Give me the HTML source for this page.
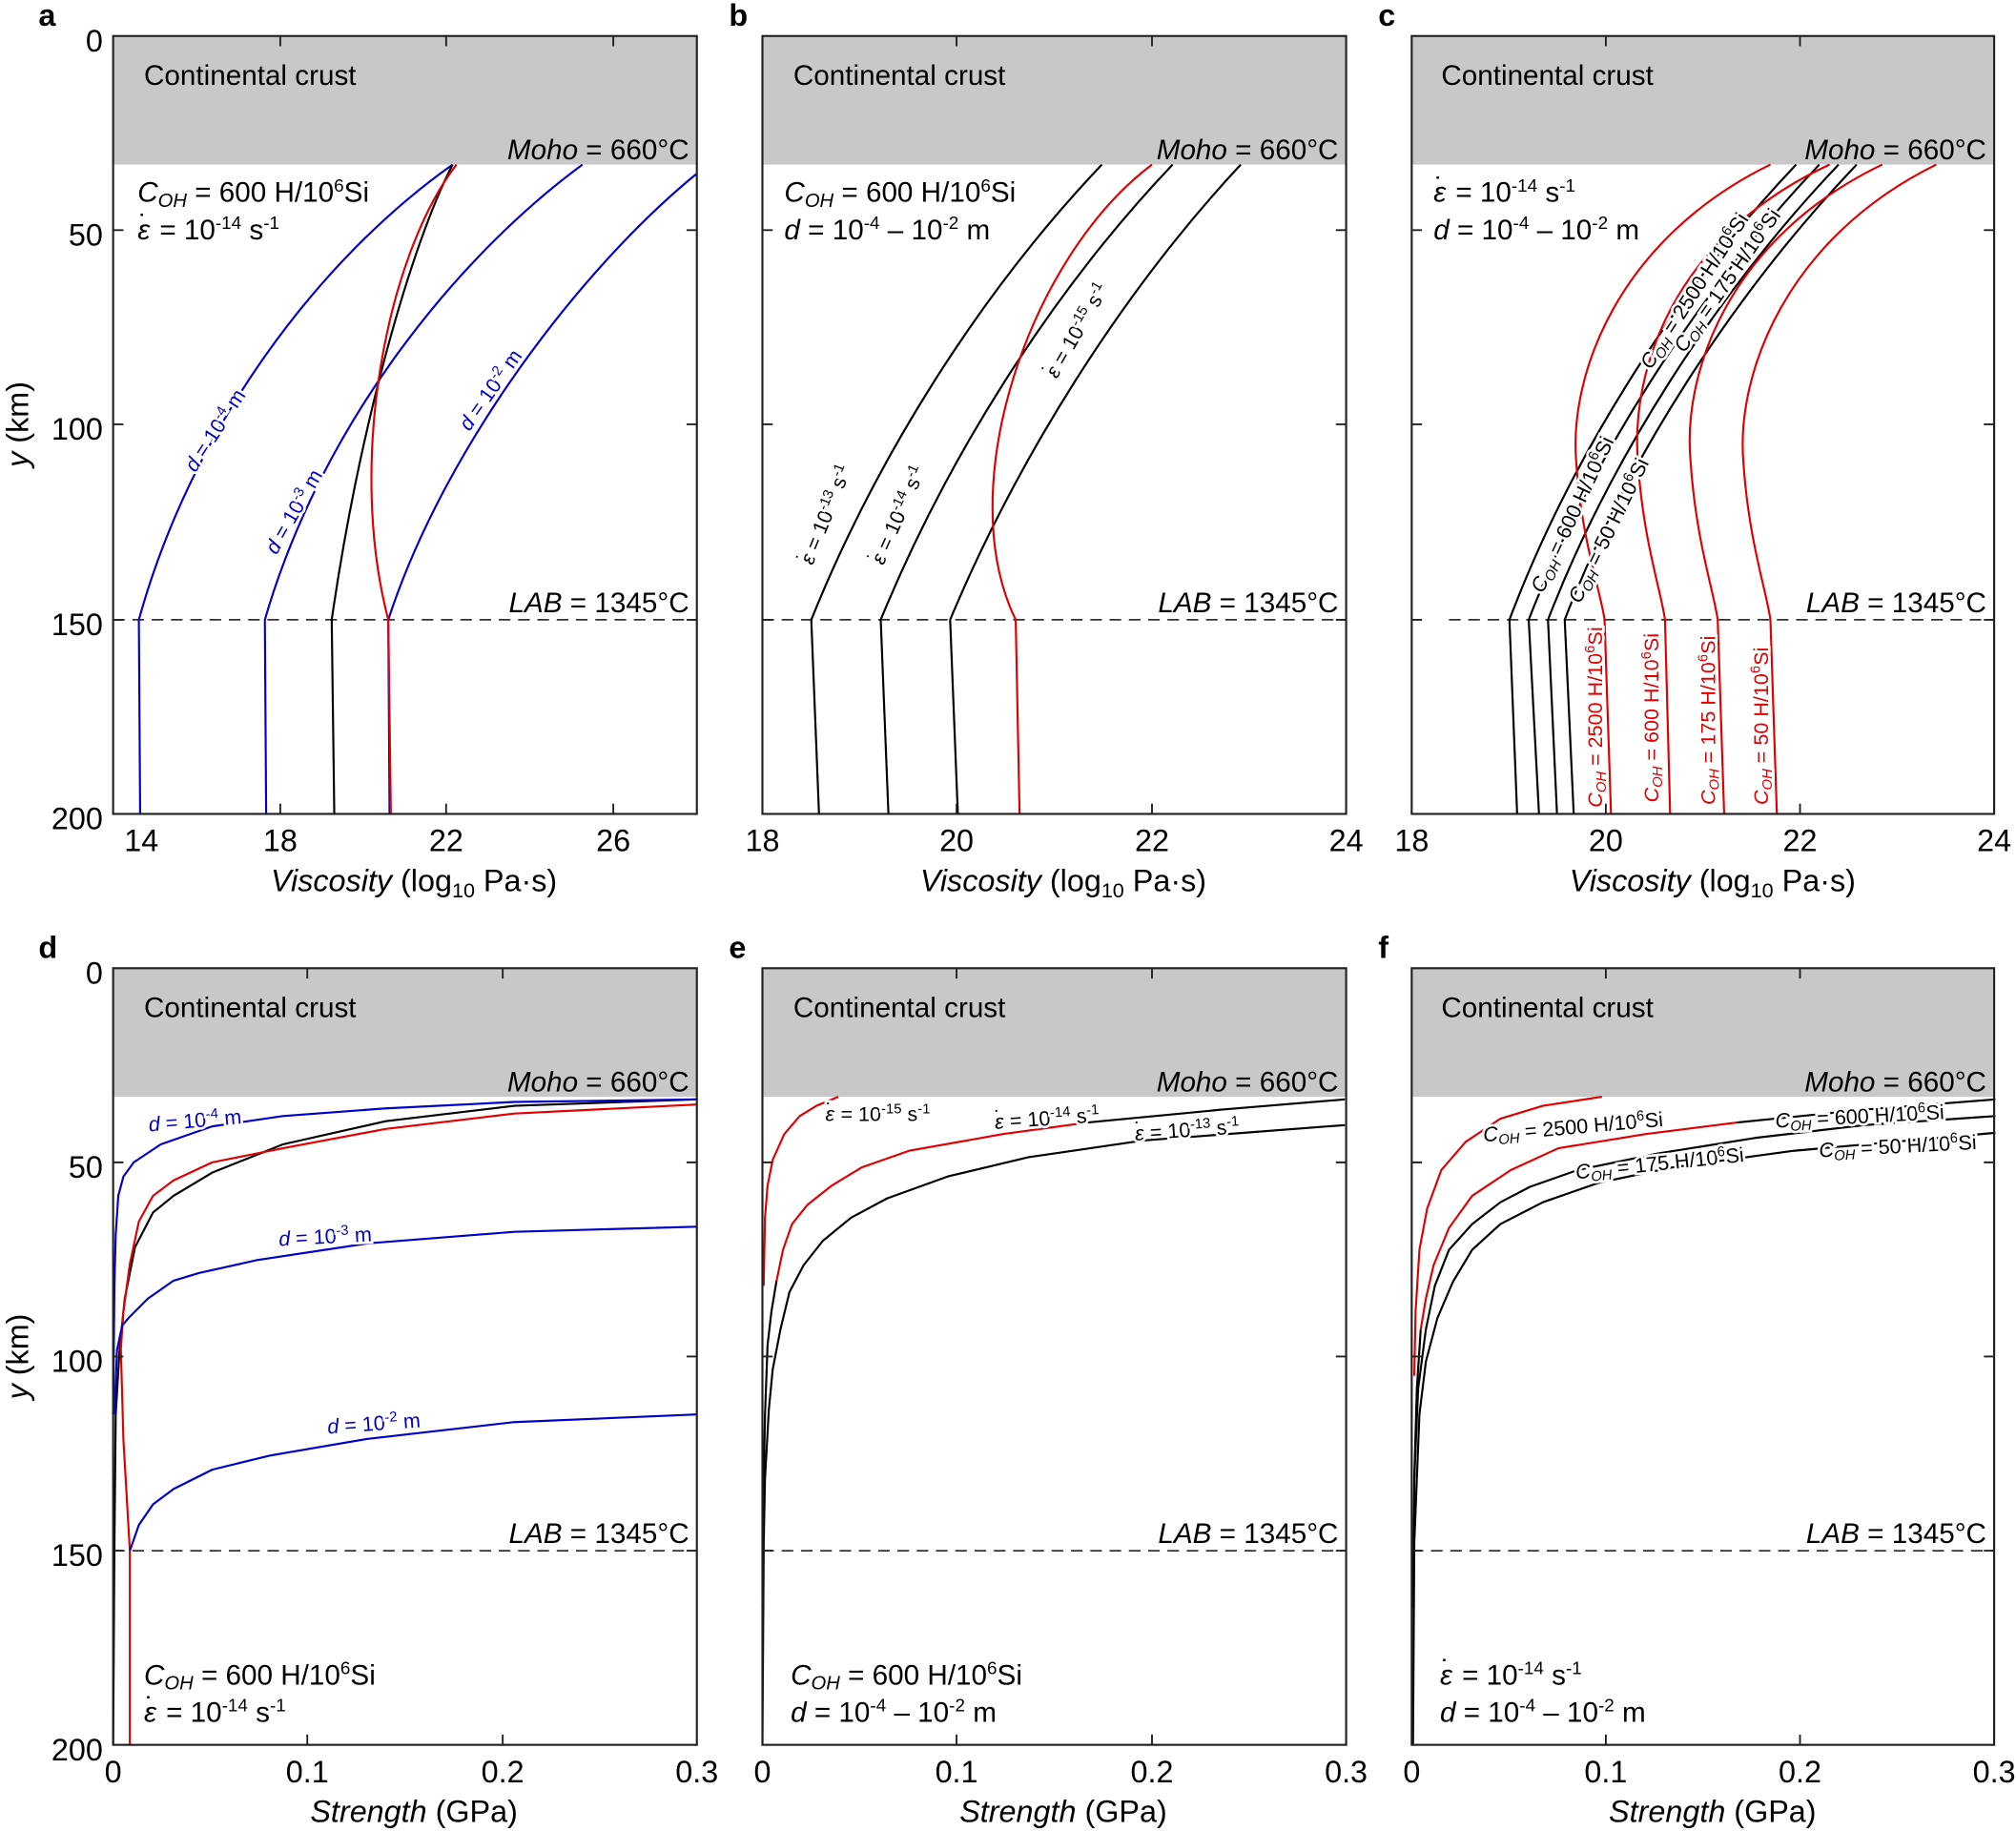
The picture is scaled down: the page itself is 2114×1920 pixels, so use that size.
<!DOCTYPE html>
<html><head><meta charset="utf-8"><style>
html,body{margin:0;padding:0;background:#fff}
svg{display:block}
text{font-family:"Liberation Sans",sans-serif;fill:#000}
.t{font-size:22px}
.tk{font-size:24px}
.lb{font-size:16px}
</style></head><body>
<svg width="2114" height="1920" viewBox="0 0 1568 1424" preserveAspectRatio="none" xmlns="http://www.w3.org/2000/svg">
<g fill="#c8c8c8" stroke="none">
<rect x="88" y="28" width="454" height="100"/><rect x="593" y="28" width="454" height="100"/><rect x="1098" y="28" width="453" height="100"/>
<rect x="88" y="753" width="454" height="100"/><rect x="593" y="753" width="454" height="100"/><rect x="1098" y="753" width="453" height="100"/>
</g>
<g stroke="#333" stroke-width="1.3" stroke-dasharray="9,6">
<line x1="88" y1="482" x2="542" y2="482"/><line x1="593" y1="482" x2="1047" y2="482"/><line x1="1127" y1="482" x2="1551" y2="482"/>
<line x1="88" y1="1206" x2="542" y2="1206"/><line x1="593" y1="1206" x2="1047" y2="1206"/><line x1="1098" y1="1206" x2="1551" y2="1206"/>
</g>

<g fill="none" stroke-width="1.6">
<path stroke="#0000c8" d="M352,128 C250,200 150,330 108,482 L109,633"/>
<path stroke="#0000c8" d="M453,128 C355,200 250,330 206,482 L207,633"/>
<path stroke="#0000c8" d="M542,135 C450,210 345,350 302,482 L303,633"/>
<path stroke="#000" d="M352,128 C320,190 280,330 258,482 L260,633"/>
<path stroke="#e00000" d="M355,128 C300,200 270,360 302,482 L304,633"/>
</g>
<g fill="none" stroke-width="1.6">
<path stroke="#000" d="M857,128 C760,230 680,360 631,482 L637,633"/>
<path stroke="#000" d="M912,128 C815,230 735,360 685,482 L691,633"/>
<path stroke="#000" d="M965,128 C870,230 790,360 739,482 L745,633"/>
<path stroke="#e00000" d="M896,128 C800,200 740,380 790,482 L793,633"/>
</g>
<g fill="none" stroke-width="1.6">
<path stroke="#000" d="M1397,128 C1300,230 1220,360 1174,482 L1180,633"/>
<path stroke="#000" d="M1415,128 C1318,230 1236,360 1189,482 L1197,633"/>
<path stroke="#000" d="M1430,128 C1333,230 1251,360 1204,482 L1211,633"/>
<path stroke="#000" d="M1444,128 C1347,230 1264,360 1217,482 L1224,633"/>
<path stroke="#e00000" d="M1377,128 C1260,185 1220,290 1226,360 C1230,420 1245,460 1248,482 L1253,633"/>
<path stroke="#e00000" d="M1423,128 C1300,185 1268,290 1274,360 C1278,420 1292,460 1295,482 L1299,633"/>
<path stroke="#e00000" d="M1464,128 C1345,185 1308,290 1315,360 C1319,420 1333,460 1336,482 L1341,633"/>
<path stroke="#e00000" d="M1506,128 C1390,185 1350,290 1356,360 C1360,420 1374,460 1377,482 L1382,633"/>
</g>

<g fill="none" stroke-width="1.6" stroke-linejoin="round">
<polyline stroke="#000" points="542,855 400,860 300,872 220,890 165,912 135,930 119,943 105,970 97,1010 93,1050 90,1100 89,1200 88,1357"/>
<polyline stroke="#e00000" points="542,859 400,866 300,878 220,893 165,904 135,918 119,930 108,950 101,983 96,1020 94,1049 96,1120 101,1206 101,1357"/>
<polyline stroke="#0000c8" points="542,855 400,857 300,862 220,868 165,876 125,890 104,904 96,915 92,930 90,960 89,1000 88,1100"/>
<polyline stroke="#0000c8" points="542,954 400,958 286,967 200,980 155,990 135,996 115,1010 100,1025 95,1031 91,1050 89,1100"/>
<polyline stroke="#0000c8" points="542,1100 400,1106 286,1119 210,1132 165,1143 135,1158 119,1170 108,1186 101,1206"/>
</g>
<g fill="none" stroke-width="1.6" stroke-linejoin="round">
<polyline stroke="#000" points="1046,875 889,887 800,900 737,915 690,932 662,947 640,965 625,984 614,1005 607,1034 601,1065 598,1096 595,1150 594,1200 593,1357"/>
<polyline stroke="#000" points="1046,855 950,863 846,873"/>
<polyline stroke="#000" points="604,996 600,1020 597,1046 595,1100 594,1150 593,1250"/>
<polyline stroke="#e00000" points="846,873 780,882 707,895 670,908 647,922 628,937 616,952 609,972 604,996"/>
<polyline stroke="#e00000" points="652,853 635,860 622,868 610,882 601,902 597,922 595,947 594,1000"/>
</g>
<g fill="none" stroke-width="1.6" stroke-linejoin="round">
<polyline stroke="#000" points="1552,881 1395,895 1300,908 1243,920 1200,935 1167,952 1145,972 1130,997 1118,1025 1109,1059 1104,1100 1100,1200 1099,1357"/>
<polyline stroke="#000" points="1552,868 1450,875 1365,885 1290,897 1227,910 1190,923 1167,935 1145,952 1127,972 1116,1000 1109,1034 1103,1080 1100,1150 1099,1250"/>
<polyline stroke="#000" points="1552,855 1450,863 1351,873"/>
<polyline stroke="#000" points="1105,1034 1102,1080 1100,1150"/>
<polyline stroke="#e00000" points="1351,873 1280,882 1212,893 1175,910 1145,930 1127,955 1115,984 1109,1010 1105,1034"/>
<polyline stroke="#e00000" points="1246,853 1200,860 1167,870 1140,888 1121,910 1110,940 1104,972 1101,1020 1100,1070"/>
</g>

<g fill="none" stroke="#222" stroke-width="1.6">
<rect x="88" y="28" width="454" height="605"/><rect x="593" y="28" width="454" height="605"/><rect x="1098" y="28" width="453" height="605"/>
<rect x="88" y="753" width="454" height="604"/><rect x="593" y="753" width="454" height="604"/><rect x="1098" y="753" width="453" height="604"/>
</g>
<g stroke="#222" stroke-width="1.4">
<path d="M88,179h8M88,330h8M88,482h8M542,179h-8M542,330h-8M542,482h-8
M593,179h8M593,330h8M593,482h8M1047,179h-8M1047,330h-8M1047,482h-8
M1098,179h8M1098,330h8M1098,482h8M1551,179h-8M1551,330h-8M1551,482h-8
M88,904h8M88,1055h8M88,1206h8M542,904h-8M542,1055h-8M542,1206h-8
M593,904h8M593,1055h8M593,1206h8M1047,904h-8M1047,1055h-8M1047,1206h-8
M1098,904h8M1098,1055h8M1098,1206h8M1551,904h-8M1551,1055h-8M1551,1206h-8
M218,28v8M347,28v8M477,28v8M218,633v-8M347,633v-8M477,633v-8
M744,28v8M896,28v8M744,633v-8M896,633v-8
M1249,28v8M1400,28v8M1249,633v-8M1400,633v-8
M239,753v8M391,753v8M239,1357v-8M391,1357v-8
M744,753v8M896,753v8M744,1357v-8M896,1357v-8
M1249,753v8M1400,753v8M1249,1357v-8M1400,1357v-8"/>
</g>

<g class="tk" text-anchor="end">
<text x="80" y="40">0</text><text x="80" y="191">50</text><text x="80" y="342">100</text><text x="80" y="494">150</text><text x="80" y="645">200</text>
<text x="80" y="765">0</text><text x="80" y="916">50</text><text x="80" y="1067">100</text><text x="80" y="1218">150</text><text x="80" y="1369">200</text>
</g>
<g class="tk" text-anchor="middle">
<text x="110" y="662">14</text><text x="218" y="662">18</text><text x="347" y="662">22</text><text x="477" y="662">26</text>
<text x="593" y="662">18</text><text x="744" y="662">20</text><text x="896" y="662">22</text><text x="1047" y="662">24</text>
<text x="1098" y="662">18</text><text x="1249" y="662">20</text><text x="1400" y="662">22</text><text x="1551" y="662">24</text>
<text x="88" y="1386">0</text><text x="239" y="1386">0.1</text><text x="391" y="1386">0.2</text><text x="542" y="1386">0.3</text>
<text x="593" y="1386">0</text><text x="744" y="1386">0.1</text><text x="896" y="1386">0.2</text><text x="1047" y="1386">0.3</text>
<text x="1098" y="1386">0</text><text x="1249" y="1386">0.1</text><text x="1400" y="1386">0.2</text><text x="1551" y="1386">0.3</text>
</g>
<g class="tk" text-anchor="middle">
<text x="322" y="693"><tspan font-style="italic">Viscosity</tspan> (log<tspan font-size="16" dy="5">10</tspan><tspan dy="-5"> Pa·s)</tspan></text>
<text x="827" y="693"><tspan font-style="italic">Viscosity</tspan> (log<tspan font-size="16" dy="5">10</tspan><tspan dy="-5"> Pa·s)</tspan></text>
<text x="1332" y="693"><tspan font-style="italic">Viscosity</tspan> (log<tspan font-size="16" dy="5">10</tspan><tspan dy="-5"> Pa·s)</tspan></text>
<text x="322" y="1417"><tspan font-style="italic">Strength</tspan> (GPa)</text>
<text x="827" y="1417"><tspan font-style="italic">Strength</tspan> (GPa)</text>
<text x="1332" y="1417"><tspan font-style="italic">Strength</tspan> (GPa)</text>
<text transform="translate(22,330) rotate(-90)"><tspan font-style="italic">y</tspan> (km)</text>
<text transform="translate(22,1055) rotate(-90)"><tspan font-style="italic">y</tspan> (km)</text>
</g>
<g font-weight="bold" font-size="24">
<text x="30" y="20">a</text><text x="567" y="20">b</text><text x="1072" y="20">c</text>
<text x="30" y="745">d</text><text x="567" y="745">e</text><text x="1072" y="745">f</text>
</g>

<g class="t">
<text x="112" y="66">Continental crust</text><text x="617" y="66">Continental crust</text><text x="1121" y="66">Continental crust</text>
<text x="112" y="791">Continental crust</text><text x="617" y="791">Continental crust</text><text x="1121" y="791">Continental crust</text>
</g>
<g class="t" text-anchor="end">
<text x="536" y="124"><tspan font-style="italic">Moho</tspan> = 660°C</text>
<text x="1041" y="124"><tspan font-style="italic">Moho</tspan> = 660°C</text>
<text x="1545" y="124"><tspan font-style="italic">Moho</tspan> = 660°C</text>
<text x="536" y="849"><tspan font-style="italic">Moho</tspan> = 660°C</text>
<text x="1041" y="849"><tspan font-style="italic">Moho</tspan> = 660°C</text>
<text x="1545" y="849"><tspan font-style="italic">Moho</tspan> = 660°C</text>
<text x="536" y="476"><tspan font-style="italic">LAB</tspan> = 1345°C</text>
<text x="1041" y="476"><tspan font-style="italic">LAB</tspan> = 1345°C</text>
<text x="1545" y="476"><tspan font-style="italic">LAB</tspan> = 1345°C</text>
<text x="536" y="1200"><tspan font-style="italic">LAB</tspan> = 1345°C</text>
<text x="1041" y="1200"><tspan font-style="italic">LAB</tspan> = 1345°C</text>
<text x="1545" y="1200"><tspan font-style="italic">LAB</tspan> = 1345°C</text>
</g>

<g class="t">
<text x="107" y="157"><tspan font-style="italic">C<tspan font-size="15" dy="4">OH</tspan></tspan><tspan dy="-4"> = 600 H/10</tspan><tspan font-size="14" dy="-8">6</tspan><tspan dy="8">Si</tspan></text>
<text x="107" y="186"><tspan font-style="italic">ε</tspan><tspan dx="-9" dy="-4">˙</tspan><tspan dx="3" dy="4"> = 10</tspan><tspan font-size="14" dy="-8">-14</tspan><tspan dy="8"> s</tspan><tspan font-size="14" dy="-8">-1</tspan></text>
<text x="610" y="157"><tspan font-style="italic">C<tspan font-size="15" dy="4">OH</tspan></tspan><tspan dy="-4"> = 600 H/10</tspan><tspan font-size="14" dy="-8">6</tspan><tspan dy="8">Si</tspan></text>
<text x="610" y="186"><tspan font-style="italic">d</tspan> = 10<tspan font-size="14" dy="-8">-4</tspan><tspan dy="8"> – 10</tspan><tspan font-size="14" dy="-8">-2</tspan><tspan dy="8"> m</tspan></text>
<text x="1115" y="157"><tspan font-style="italic">ε</tspan><tspan dx="-9" dy="-4">˙</tspan><tspan dx="3" dy="4"> = 10</tspan><tspan font-size="14" dy="-8">-14</tspan><tspan dy="8"> s</tspan><tspan font-size="14" dy="-8">-1</tspan></text>
<text x="1115" y="186"><tspan font-style="italic">d</tspan> = 10<tspan font-size="14" dy="-8">-4</tspan><tspan dy="8"> – 10</tspan><tspan font-size="14" dy="-8">-2</tspan><tspan dy="8"> m</tspan></text>
<text x="112" y="1310"><tspan font-style="italic">C<tspan font-size="15" dy="4">OH</tspan></tspan><tspan dy="-4"> = 600 H/10</tspan><tspan font-size="14" dy="-8">6</tspan><tspan dy="8">Si</tspan></text>
<text x="112" y="1339"><tspan font-style="italic">ε</tspan><tspan dx="-9" dy="-4">˙</tspan><tspan dx="3" dy="4"> = 10</tspan><tspan font-size="14" dy="-8">-14</tspan><tspan dy="8"> s</tspan><tspan font-size="14" dy="-8">-1</tspan></text>
<text x="615" y="1310"><tspan font-style="italic">C<tspan font-size="15" dy="4">OH</tspan></tspan><tspan dy="-4"> = 600 H/10</tspan><tspan font-size="14" dy="-8">6</tspan><tspan dy="8">Si</tspan></text>
<text x="615" y="1339"><tspan font-style="italic">d</tspan> = 10<tspan font-size="14" dy="-8">-4</tspan><tspan dy="8"> – 10</tspan><tspan font-size="14" dy="-8">-2</tspan><tspan dy="8"> m</tspan></text>
<text x="1120" y="1310"><tspan font-style="italic">ε</tspan><tspan dx="-9" dy="-4">˙</tspan><tspan dx="3" dy="4"> = 10</tspan><tspan font-size="14" dy="-8">-14</tspan><tspan dy="8"> s</tspan><tspan font-size="14" dy="-8">-1</tspan></text>
<text x="1120" y="1339"><tspan font-style="italic">d</tspan> = 10<tspan font-size="14" dy="-8">-4</tspan><tspan dy="8"> – 10</tspan><tspan font-size="14" dy="-8">-2</tspan><tspan dy="8"> m</tspan></text>
</g>

<g class="lb" stroke="#fff" stroke-width="4" paint-order="stroke">
<text style="fill:#0000c8" transform="translate(152,368) rotate(-57)"><tspan font-style="italic">d</tspan> = 10<tspan font-size="11" dy="-6">-4</tspan><tspan dy="6"> m</tspan></text>
<text style="fill:#0000c8" transform="translate(215,432) rotate(-60)"><tspan font-style="italic">d</tspan> = 10<tspan font-size="11" dy="-6">-3</tspan><tspan dy="6"> m</tspan></text>
<text style="fill:#0000c8" transform="translate(365,336) rotate(-55)"><tspan font-style="italic">d</tspan> = 10<tspan font-size="11" dy="-6">-2</tspan><tspan dy="6"> m</tspan></text>
<text transform="translate(632,440) rotate(-68)"><tspan font-style="italic">ε</tspan><tspan dx="-7" dy="-3">˙</tspan><tspan dx="2" dy="3"> = 10</tspan><tspan font-size="11" dy="-6">-13</tspan><tspan dy="6"> s</tspan><tspan font-size="11" dy="-6">-1</tspan></text>
<text transform="translate(687,440) rotate(-66)"><tspan font-style="italic">ε</tspan><tspan dx="-7" dy="-3">˙</tspan><tspan dx="2" dy="3"> = 10</tspan><tspan font-size="11" dy="-6">-14</tspan><tspan dy="6"> s</tspan><tspan font-size="11" dy="-6">-1</tspan></text>
<text transform="translate(822,295) rotate(-60)"><tspan font-style="italic">ε</tspan><tspan dx="-7" dy="-3">˙</tspan><tspan dx="2" dy="3"> = 10</tspan><tspan font-size="11" dy="-6">-15</tspan><tspan dy="6"> s</tspan><tspan font-size="11" dy="-6">-1</tspan></text>
<text transform="translate(1284,288) rotate(-57)"><tspan font-style="italic">C<tspan font-size="11" dy="3">OH</tspan></tspan><tspan dy="-3"> = 2500 H/10</tspan><tspan font-size="11" dy="-6">6</tspan><tspan dy="6">Si</tspan></text>
<text transform="translate(1310,275) rotate(-55)"><tspan font-style="italic">C<tspan font-size="11" dy="3">OH</tspan></tspan><tspan dy="-3"> = 175 H/10</tspan><tspan font-size="11" dy="-6">6</tspan><tspan dy="6">Si</tspan></text>
<text transform="translate(1200,462) rotate(-65)"><tspan font-style="italic">C<tspan font-size="11" dy="3">OH</tspan></tspan><tspan dy="-3"> = 600 H/10</tspan><tspan font-size="11" dy="-6">6</tspan><tspan dy="6">Si</tspan></text>
<text transform="translate(1229,470) rotate(-64)"><tspan font-style="italic">C<tspan font-size="11" dy="3">OH</tspan></tspan><tspan dy="-3"> = 50 H/10</tspan><tspan font-size="11" dy="-6">6</tspan><tspan dy="6">Si</tspan></text>
<text style="fill:#e00000" transform="translate(1246,628) rotate(-90)"><tspan font-style="italic">C<tspan font-size="11" dy="3">OH</tspan></tspan><tspan dy="-3"> = 2500 H/10</tspan><tspan font-size="11" dy="-6">6</tspan><tspan dy="6">Si</tspan></text>
<text style="fill:#e00000" transform="translate(1290,624) rotate(-90)"><tspan font-style="italic">C<tspan font-size="11" dy="3">OH</tspan></tspan><tspan dy="-3"> = 600 H/10</tspan><tspan font-size="11" dy="-6">6</tspan><tspan dy="6">Si</tspan></text>
<text style="fill:#e00000" transform="translate(1334,626) rotate(-90)"><tspan font-style="italic">C<tspan font-size="11" dy="3">OH</tspan></tspan><tspan dy="-3"> = 175 H/10</tspan><tspan font-size="11" dy="-6">6</tspan><tspan dy="6">Si</tspan></text>
<text style="fill:#e00000" transform="translate(1375,626) rotate(-90)"><tspan font-style="italic">C<tspan font-size="11" dy="3">OH</tspan></tspan><tspan dy="-3"> = 50 H/10</tspan><tspan font-size="11" dy="-6">6</tspan><tspan dy="6">Si</tspan></text>
<text style="fill:#0000c8" transform="translate(116,880) rotate(-5)"><tspan font-style="italic">d</tspan> = 10<tspan font-size="11" dy="-6">-4</tspan><tspan dy="6"> m</tspan></text>
<text style="fill:#0000c8" transform="translate(217,969) rotate(-3)"><tspan font-style="italic">d</tspan> = 10<tspan font-size="11" dy="-6">-3</tspan><tspan dy="6"> m</tspan></text>
<text style="fill:#0000c8" transform="translate(255,1115) rotate(-4)"><tspan font-style="italic">d</tspan> = 10<tspan font-size="11" dy="-6">-2</tspan><tspan dy="6"> m</tspan></text>
<text transform="translate(642,872)"><tspan font-style="italic">ε</tspan><tspan dx="-7" dy="-3">˙</tspan><tspan dx="2" dy="3"> = 10</tspan><tspan font-size="11" dy="-6">-15</tspan><tspan dy="6"> s</tspan><tspan font-size="11" dy="-6">-1</tspan></text>
<text transform="translate(774,878) rotate(-4)"><tspan font-style="italic">ε</tspan><tspan dx="-7" dy="-3">˙</tspan><tspan dx="2" dy="3"> = 10</tspan><tspan font-size="11" dy="-6">-14</tspan><tspan dy="6"> s</tspan><tspan font-size="11" dy="-6">-1</tspan></text>
<text transform="translate(883,887) rotate(-4)"><tspan font-style="italic">ε</tspan><tspan dx="-7" dy="-3">˙</tspan><tspan dx="2" dy="3"> = 10</tspan><tspan font-size="11" dy="-6">-13</tspan><tspan dy="6"> s</tspan><tspan font-size="11" dy="-6">-1</tspan></text>
<text transform="translate(1154,888) rotate(-5)"><tspan font-style="italic">C<tspan font-size="11" dy="3">OH</tspan></tspan><tspan dy="-3"> = 2500 H/10</tspan><tspan font-size="11" dy="-6">6</tspan><tspan dy="6">Si</tspan></text>
<text transform="translate(1381,877) rotate(-3)"><tspan font-style="italic">C<tspan font-size="11" dy="3">OH</tspan></tspan><tspan dy="-3"> = 600 H/10</tspan><tspan font-size="11" dy="-6">6</tspan><tspan dy="6">Si</tspan></text>
<text transform="translate(1226,917) rotate(-6)"><tspan font-style="italic">C<tspan font-size="11" dy="3">OH</tspan></tspan><tspan dy="-3"> = 175 H/10</tspan><tspan font-size="11" dy="-6">6</tspan><tspan dy="6">Si</tspan></text>
<text transform="translate(1415,900) rotate(-3)"><tspan font-style="italic">C<tspan font-size="11" dy="3">OH</tspan></tspan><tspan dy="-3"> = 50 H/10</tspan><tspan font-size="11" dy="-6">6</tspan><tspan dy="6">Si</tspan></text>
</g>
</svg>
</body></html>
